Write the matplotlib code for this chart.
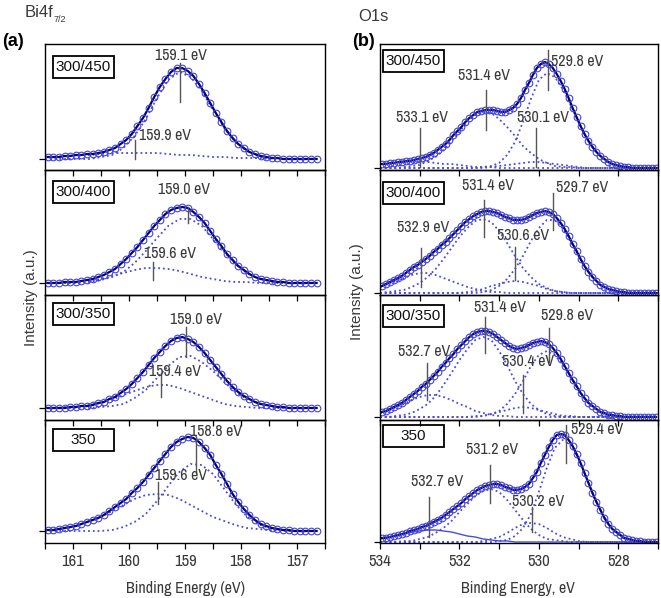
import numpy as np
import matplotlib
matplotlib.use('Agg')
import matplotlib.pyplot as plt
from matplotlib.patches import Rectangle

# ---------------- data (intensity in a.u., baseline = 0) ----------------
SAMPLES = ['300/450', '300/400', '300/350', '350']

# Bi4f7/2 : measured points / envelope (161.45 -> 156.65 eV, 0.1 eV step)
BI_300_450_ENV = [2,2,2,3,3,4,4,5,5,6,7,9,11,15,19,25,33,41,51,62,72,80,87,91,91,88,83,75,66,56,46,37,28,21,15,11,7,5,3,2,1,1,0,0,0,0,0,0,0]
BI_300_400_ENV = [0,0,0,1,1,1,2,3,4,6,8,11,14,19,24,30,36,43,50,57,63,69,73,75,76,75,71,66,60,52,44,37,29,23,17,13,9,6,4,3,2,1,1,0,0,0,0,0,0]
BI_300_350_ENV = [0,0,0,0,1,1,2,2,3,5,6,9,11,15,19,24,30,36,43,50,56,62,67,70,71,69,66,61,55,48,41,34,27,21,16,12,9,6,4,3,2,1,1,0,0,0,0,0,0]
BI_350_ENV = [1,1,2,3,4,5,7,9,11,13,16,20,24,28,32,38,43,49,56,63,70,77,84,89,92,94,93,89,83,76,66,57,47,37,29,22,16,11,7,5,3,2,1,1,0,0,0,0,0]
# Bi4f7/2 fitted components (161.5 -> 156.7 eV, 0.2 eV step)
BI_300_450_C1 = [0,0,0,0,0,2,4,11,23,40,61,79,87,82,68,49,31,17,8,3,1,0,0,0,0]
BI_300_450_C2 = [2,2,3,4,4,5,6,6,6,6,6,5,4,4,3,2,2,1,1,1,0,0,0,0,0]
BI_300_400_C1 = [0,0,0,0,1,3,6,11,20,32,45,57,64,64,57,44,31,19,10,5,2,1,0,0,0]
BI_300_400_C2 = [0,0,1,1,2,4,7,10,13,15,15,14,12,9,6,4,2,1,1,0,0,0,0,0,0]
BI_300_350_C1 = [0,0,0,0,0,1,2,4,10,18,30,42,51,52,46,37,26,16,9,5,2,1,0,0,0]
BI_300_350_C2 = [0,0,1,1,3,5,8,13,17,21,23,23,20,16,12,8,4,2,1,0,0,0,0,0,0]
BI_350_C1 = [0,0,0,0,0,0,1,4,9,17,30,45,59,67,66,57,42,27,15,7,3,1,0,0,0]
BI_350_C2 = [1,2,3,6,10,14,20,26,32,36,37,36,32,26,20,14,10,6,3,2,1,0,0,0,0]

# O1s : measured points / envelope (533.95 -> 527.05 eV, 0.1 eV step)
O_300_450_ENV = [4,4,5,5,6,6,7,7,8,9,10,11,13,15,18,21,24,28,33,37,41,46,50,53,56,57,58,58,58,57,56,56,58,60,64,70,78,85,93,100,104,106,104,100,94,87,79,70,60,51,42,34,27,21,16,12,9,6,4,3,2,1,1,0,0,0,0,0,0,0]
O_300_400_ENV = [7,9,11,13,15,17,20,23,26,28,31,34,37,41,44,48,51,55,59,63,67,71,74,77,79,81,82,82,81,80,78,76,75,73,73,73,74,76,78,80,81,82,81,79,75,70,64,57,49,42,34,27,21,16,12,8,6,4,3,2,1,1,0,0,0,0,0,0,0,0]
O_300_350_ENV = [5,6,8,10,12,14,17,20,23,26,30,33,37,41,45,50,54,59,63,68,72,76,80,83,85,86,86,85,83,80,77,74,71,69,68,69,70,72,74,75,76,75,73,69,64,58,51,44,37,31,24,19,14,11,8,5,4,2,2,1,1,0,0,0,0,0,0,0,0,0]
O_350_ENV = [4,4,5,6,7,8,9,11,12,13,15,16,18,20,22,24,27,30,33,36,39,43,46,49,52,54,56,57,58,58,57,55,54,52,52,53,55,58,64,70,79,87,95,102,107,108,107,102,96,88,79,69,59,49,40,32,24,18,13,10,7,4,3,2,1,1,0,0,0,0]
# O1s fitted components (534.0 -> 527.0 eV, 0.2 eV step)
O_300_450_C1 = [4,4,5,6,6,6,6,5,4,4,3,2,1,1,1,0,0,0,0,0,0,0,0,0,0,0,0,0,0,0,0,0,0,0,0,0]
O_300_450_C2 = [0,0,0,1,2,3,7,11,18,27,36,46,53,56,55,49,41,32,22,15,9,5,2,1,1,0,0,0,0,0,0,0,0,0,0,0]
O_300_450_C3 = [0,0,0,0,0,0,0,0,0,0,0,0,0,0,1,2,3,4,5,6,6,5,4,3,2,1,0,0,0,0,0,0,0,0,0,0]
O_300_450_C4 = [0,0,0,0,0,0,0,0,0,0,0,0,0,1,2,5,13,26,46,69,88,95,91,79,63,46,30,18,10,5,2,1,0,0,0,0]
O_300_400_C1 = [6,9,12,15,18,20,20,18,15,12,9,6,4,2,1,1,0,0,0,0,0,0,0,0,0,0,0,0,0,0,0,0,0,0,0,0]
O_300_400_C2 = [0,1,2,3,6,10,16,24,34,45,56,65,72,74,71,62,50,37,25,16,9,5,2,1,0,0,0,0,0,0,0,0,0,0,0,0]
O_300_400_C3 = [0,0,0,0,0,0,0,0,0,0,0,1,2,4,7,9,11,12,11,9,7,4,2,1,0,0,0,0,0,0,0,0,0,0,0,0]
O_300_400_C4 = [0,0,0,0,0,0,0,0,0,0,0,0,0,1,3,7,14,24,37,52,65,73,73,65,52,37,24,14,7,3,1,0,0,0,0,0]
O_300_350_C1 = [4,6,10,13,17,20,22,22,20,17,13,10,6,4,2,1,1,0,0,0,0,0,0,0,0,0,0,0,0,0,0,0,0,0,0,0]
O_300_350_C2 = [0,0,1,2,4,8,13,21,32,44,57,68,77,80,77,66,52,36,23,13,7,3,1,0,0,0,0,0,0,0,0,0,0,0,0,0]
O_300_350_C3 = [0,0,0,0,0,0,0,0,0,0,0,0,1,1,3,5,7,9,10,9,7,5,3,1,1,0,0,0,0,0,0,0,0,0,0,0]
O_300_350_C4 = [0,0,0,0,0,0,0,0,0,0,0,0,0,1,3,6,13,23,36,51,62,66,62,53,40,27,16,9,4,2,1,0,0,0,0,0]
O_350_C1 = [3,5,6,8,10,11,12,12,11,10,8,6,5,3,2,1,1,0,0,0,0,0,0,0,0,0,0,0,0,0,0,0,0,0,0,0]
O_350_C2 = [0,0,0,1,1,3,5,9,14,21,30,38,46,51,53,50,42,32,22,13,7,3,2,1,0,0,0,0,0,0,0,0,0,0,0,0]
O_350_C3 = [0,0,0,0,0,0,0,0,0,0,0,0,0,1,3,5,9,14,18,19,18,14,9,5,3,1,0,0,0,0,0,0,0,0,0,0]
O_350_C4 = [0,0,0,0,0,0,0,0,0,0,0,0,0,0,0,1,2,6,14,28,50,74,94,102,97,83,64,44,28,16,8,4,2,1,0,0]

# peak markers: (energy, top, bottom) and labels: (text, energy, height, align)
BI_MARKS = [
    [(159.09, 96, 57), (159.90, 19, 0)],
    [(158.95, 76, 60), (159.57, 21, 3)],
    [(158.98, 81, 51), (159.42, 35, 11)],
    [(158.81, 94, 58), (159.48, 49, 27)],
]
BI_LABELS = [
    [('159.1 eV', 159.08, 104, 'center'), ('159.9 eV', 159.83, 24, 'left')],
    [('159.0 eV', 159.02, 94, 'center'), ('159.6 eV', 159.73, 29, 'left')],
    [('159.0 eV', 158.81, 88, 'center'), ('159.4 eV', 159.65, 37, 'left')],
    [('158.8 eV', 158.91, 99, 'left'), ('159.6 eV', 159.53, 56, 'left')],
]
O_MARKS = [
    [(529.76, 118, 78), (531.34, 78, 38), (532.99, 40, 1), (530.08, 40, 1)],
    [(531.39, 93, 56), (529.65, 100, 63), (532.96, 45, 6), (530.61, 46, 13)],
    [(531.36, 100, 64), (529.75, 89, 55), (532.81, 54, 17), (530.41, 42, 4)],
    [(529.32, 117, 79), (531.22, 77, 39), (532.76, 45, 5), (530.18, 35, 10)],
]
O_LABELS = [
    [('529.8 eV', 529.70, 107, 'left'), ('531.4 eV', 531.38, 93, 'center'),
     ('533.1 eV', 532.95, 51, 'center'), ('530.1 eV', 529.89, 51, 'center')],
    [('531.4 eV', 531.29, 108, 'center'), ('529.7 eV', 529.57, 105, 'left'),
     ('532.9 eV', 532.91, 66, 'center'), ('530.6 eV', 530.41, 57, 'center')],
    [('531.4 eV', 530.99, 110, 'center'), ('529.8 eV', 529.29, 102, 'center'),
     ('532.7 eV', 532.90, 65, 'center'), ('530.4 eV', 530.28, 56, 'center')],
    [('529.4 eV', 529.19, 113, 'left'), ('531.2 eV', 531.19, 92, 'center'),
     ('532.7 eV', 532.56, 60, 'center'), ('530.2 eV', 530.03, 40, 'center')],
]
BI_TICKS = [161, 160, 159, 158, 157]
O_TICKS = [534, 532, 530, 528]

BI_ENV = [BI_300_450_ENV, BI_300_400_ENV, BI_300_350_ENV, BI_350_ENV]
BI_COMPS = [[BI_300_450_C1, BI_300_450_C2], [BI_300_400_C1, BI_300_400_C2],
            [BI_300_350_C1, BI_300_350_C2], [BI_350_C1, BI_350_C2]]
O_ENV = [O_300_450_ENV, O_300_400_ENV, O_300_350_ENV, O_350_ENV]
O_COMPS = [[O_300_450_C1, O_300_450_C2, O_300_450_C3, O_300_450_C4],
           [O_300_400_C1, O_300_400_C2, O_300_400_C3, O_300_400_C4],
           [O_300_350_C1, O_300_350_C2, O_300_350_C3, O_300_350_C4],
           [O_350_C1, O_350_C2, O_350_C3, O_350_C4]]

# ---------------- layout ----------------
W, H = 661, 598
fig = plt.figure(figsize=(W / 100, H / 100), dpi=100)
def fx(X): return X / W
def fy(Y): return 1 - Y / H

FONT = ['Liberation Sans', 'DejaVu Sans']
NFONT = ['Archivo Narrow', 'Liberation Sans', 'DejaVu Sans']
ROWS = [(44, 170), (170, 295), (295, 420), (420, 543)]
BASES = [[159, 283, 408, 531], [168, 293, 417, 542]]
BOX_TOPS = [[56, 181, 303, 429], [50, 182, 305, 425]]

CIRC = '#4545d4'
ENVC = '#00007a'
DOT = '#4a4ae0'
TXT = '#3a3a3a'

for col in range(2):
    for r in range(4):
        yt, yb = ROWS[r]
        b = BASES[col][r]
        if col == 0:
            x0, x1 = 45, 325
            env, comps = BI_ENV[r], BI_COMPS[r]
            X = np.linspace(161.45, 156.65, len(env))
            XC = np.linspace(161.5, 156.7, len(comps[0]))
            marks, labels = BI_MARKS[r], BI_LABELS[r]
        else:
            x0, x1 = 380, 658
            env, comps = O_ENV[r], O_COMPS[r]
            X = np.linspace(533.95, 527.05, len(env))
            XC = np.linspace(534.0, 527.0, len(comps[0]))
            marks, labels = O_MARKS[r], O_LABELS[r]
        ax = fig.add_axes([fx(x0), fy(yb), (x1 - x0) / W, (yb - yt) / H])
        ax.set_facecolor('none')
        for i, comp in enumerate(comps):
            if col == 1 and r == 3 and i == 0:
                ax.plot(XC, comp, ls='-', color=DOT, lw=1.0)
            else:
                ax.plot(XC, comp, ls=':', color=DOT, lw=1.3)
        ax.plot(X, env, color=ENVC, lw=1.6)
        ax.plot(X, env, 'o', mfc='none', mec=CIRC, ms=4.8, mew=0.8)
        for (mx, my0, my1) in marks:
            ax.plot([mx, mx], [my0, my1], color='#555555', lw=1.0)
        for (s, lx, ly, ha) in labels:
            ax.text(lx, ly, s, ha=ha, va='center', fontsize=11.5, color=TXT, family=NFONT)
        ax.set_ylim(-(yb - b), b - yt)
        if col == 0:
            ax.set_xlim(161.5, 156.55)
            ax.set_xticks(BI_TICKS)
            ax.set_xticks(np.arange(156.5, 161.6, 0.5), minor=True)
        else:
            ax.set_xlim(534, 527)
            ax.set_xticks(O_TICKS)
            ax.set_xticks(np.arange(527, 534.1, 1), minor=True)
        ax.set_yticks([0])
        ax.set_yticklabels([])
        ax.tick_params(axis='x', which='both', direction='out', length=4.5, width=0.9,
                       labelsize=12, labelcolor=TXT, labelbottom=(r == 3))
        ax.tick_params(axis='y', direction='out', length=4, width=0.9)
        for t in ax.get_xticklabels():
            t.set_family(NFONT)
        for s in ax.spines.values():
            s.set_linewidth(1.0)
        bx = 53 if col == 0 else 383
        bt = BOX_TOPS[col][r]
        fig.add_artist(Rectangle((fx(bx), fy(bt + 22)), 61 / W, 22 / H,
                                 transform=fig.transFigure, fill=False,
                                 ec='black', lw=1.3))
        fig.text(fx(bx + 30.5), fy(bt + 11), SAMPLES[r], ha='center', va='center',
                 fontsize=11, color='#111111', family=FONT)

fig.text(fx(25), fy(17), 'Bi4f', fontsize=12, color=TXT, family=FONT, va='baseline')
fig.text(fx(54), fy(22), '7/2', fontsize=6.5, color=TXT, family=FONT, va='baseline')
fig.text(fx(358), fy(21), 'O1s', fontsize=12, color=TXT, family=FONT, va='baseline')
fig.text(fx(2), fy(42), '(a)', fontsize=13, fontweight='bold', color='black',
         family=FONT, va='center')
fig.text(fx(352), fy(41), '(b)', fontsize=13, fontweight='bold', color='black',
         family=FONT, va='center')
fig.text(fx(31), fy(298), 'Intensity (a.u.)', rotation=90, ha='center', va='center',
         fontsize=11, color=TXT, family=FONT)
fig.text(fx(357.5), fy(292), 'Intensity (a.u.)', rotation=90, ha='center', va='center',
         fontsize=11, color=TXT, family=FONT)
fig.text(fx(185), fy(588), 'Binding Energy (eV)', ha='center', va='center',
         fontsize=11.5, color=TXT, family=NFONT)
fig.text(fx(518), fy(588), 'Binding Energy, eV', ha='center', va='center',
         fontsize=11.5, color=TXT, family=NFONT)

fig.savefig('out.png', dpi=100)
